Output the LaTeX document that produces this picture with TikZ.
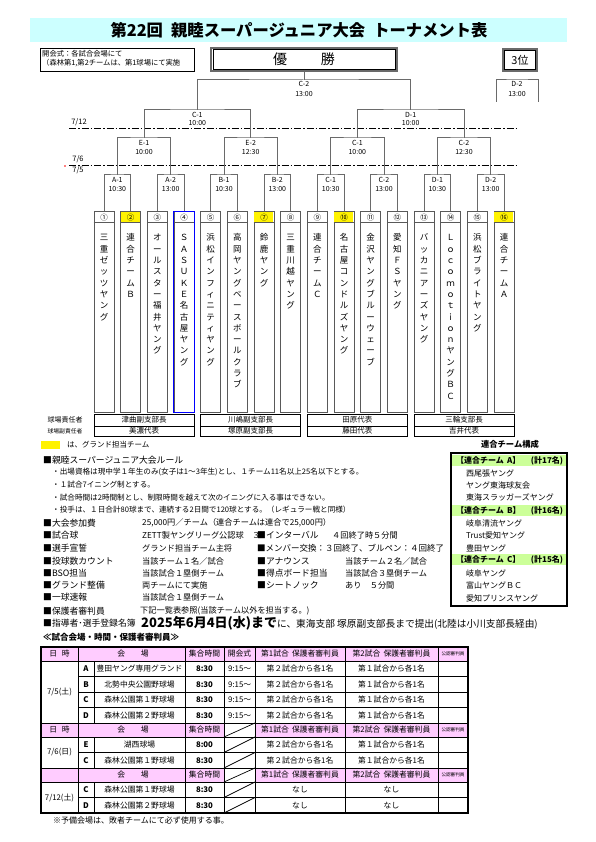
\documentclass[tikz,border=0pt]{standalone}
\usepackage{fontspec}
\setmainfont{Noto Sans CJK JP}
\definecolor{titlecyan}{HTML}{CCFFFF}
\definecolor{pinkhd}{HTML}{FFCCFF}
\definecolor{greenhd}{HTML}{CCFF99}
\definecolor{lnGray}{HTML}{6A6A6A}
\newcommand\fsz[1]{\fontsize{#1}{#1}\selectfont}
\def\stkend{\stkend}
\def\stk#1{\stkA#1\stkend}
\def\stkA#1{\ifx#1\stkend\else\hbox to 0pt{\hss#1\hss\vrule height 7.5pt depth 1.5pt width 0pt}\expandafter\stkA\fi}
\begin{document}
\begin{tikzpicture}[x=1pt,y=-1pt,
  lbl/.style={inner sep=0pt, font=\fsz{7}},
  brk/.style={draw=lnGray, line width=1pt},
  dd/.style={line width=1pt, dash pattern=on 7pt off 2pt on 1.5pt off 2pt},
  tbox/.style={draw=black!65, line width=1pt, minimum width=20pt, minimum height=200pt, inner sep=0pt},
  rl/.style={inner sep=0pt, anchor=west, font=\fsz{8.8}},
  rv/.style={inner sep=0pt, anchor=west, font=\fsz{8.2}},
  bl/.style={inner sep=0pt, anchor=west, font=\fsz{7.6}},
  cell/.style={inner sep=0pt, font=\fsz{7.8}},
  cellb/.style={inner sep=0pt, font=\fsz{7.8}\bfseries},
  rbox/.style={draw, line width=0.8pt, minimum width=100pt, inner sep=0pt, font=\fsz{7.5}},
  itm/.style={inner sep=0pt, anchor=west, font=\fsz{8}},
  tl/.style={line width=0.9pt}
]
\useasboundingbox (0,0) rectangle (595,842);
\fill[white] (0,0) rectangle (595,842);

% ---------- title ----------
\fill[titlecyan] (30,18) rectangle (567,42);
\node[font=\fsz{16.3}\bfseries, inner sep=0pt] (title) at (299,30) {第22回\hspace{0.5em}親睦スーパージュニア大会\hspace{0.5em}トーナメント表};

% ---------- opening box ----------
\node[draw, line width=1pt, minimum width=154pt, minimum height=23pt, inner sep=0pt, anchor=north west] (open) at (40,48) {};
\begin{scope}
\clip (41,49) rectangle (193,70);
\node[anchor=west, font=\fsz{7.3}, inner sep=0pt] (open1) at (42,53.5) {開会式：各試合会場にて};
\node[anchor=west, font=\fsz{7.3}, inner sep=0pt] (open2) at (42,63.5) {（森林第1,第2チームは、第1球場にて実施};
\end{scope}

% ---------- champion / third ----------
\draw[lnGray, line width=1.6pt] (211,48) rectangle (397,71);
\node[draw=black, line width=0.7pt, minimum width=182pt, minimum height=19.5pt, inner sep=0pt, font=\fsz{14}] (win) at (304,59.5) {優\hspace{2.4em}勝};
\draw[lnGray, line width=1.4pt] (503,49) rectangle (537,71);
\node[draw=black, line width=0.6pt, minimum width=31pt, minimum height=19pt, inner sep=0pt, font=\fsz{11}] (third) at (520,60) {3位};

% ---------- date separators ----------
\coordinate (da1) at (69,129); \coordinate (db1) at (517,129);
\coordinate (da2) at (69,166); \coordinate (db2) at (517,166);
\draw[dd] (da1) -- (db1);
\draw[dd] (da2) -- (db2);
\node[lbl, font=\fsz{7.5}] (d712) at (79,122) {7/12};
\node[lbl, font=\fsz{7.5}] (d76) at (78,159.5) {7/6};
\node[lbl, font=\fsz{7.5}] (d75) at (78,170) {7/5};
\fill[red] (65,166) circle (0.8pt);

% ---------- teams ----------
\foreach \i/\n/\nm/\yl in {
1/①/三重ゼッツヤング/0,
2/②/連合チームＢ/1,
3/③/オールスター福井ヤング/0,
4/④/ＳＡＳＵＫＥ名古屋ヤング/0,
5/⑤/浜松インフィニティヤング/0,
6/⑥/高岡ヤングベースボールクラブ/0,
7/⑦/鈴鹿ヤング/1,
8/⑧/三重川越ヤング/0,
9/⑨/連合チームＣ/0,
10/⑩/名古屋コンドルズヤング/1,
11/⑪/金沢ヤングブルーウェーブ/0,
12/⑫/愛知ＦＳヤング/0,
13/⑬/バッカニアーズヤング/0,
14/⑭/ＬｏｃｏｍｏｔｉｏｎヤングＢＣ/0,
15/⑮/浜松ブライトヤング/0,
16/⑯/連合チームＡ/1}{
  \node[tbox] (t\i) at ({104+(\i-1)*26.6667},312) {};
  \ifnum\yl=1 \fill[yellow] ([xshift=0.5pt,yshift=-0.5pt]t\i.north west) rectangle ++(19,10.5); \fi
  \draw[black!65, line width=0.8pt] ([yshift=-11pt]t\i.north west) -- ([yshift=-11pt]t\i.north east);
  \node[inner sep=0pt, font=\fsz{7.5}] (n\i) at ([yshift=-5.7pt]t\i.north) {\n};
  \node[inner sep=0pt, anchor=north, font=\fsz{8.5}] (nm\i) at ([yshift=-21.7pt]t\i.north) {\vbox{\baselineskip=11.3pt\expandafter\stk\expandafter{\nm}}};
}
\draw[blue, line width=1.8pt] (t4.north west) rectangle (t4.south east);

% ---------- first round ----------
\foreach \k/\a/\b/\lab/\tm in {1/1/2/A-1/10:30, 2/3/4/A-2/13:00, 3/5/6/B-1/10:30, 4/7/8/B-2/13:00, 5/9/10/C-1/10:30, 6/11/12/C-2/13:00, 7/13/14/D-1/10:30, 8/15/16/D-2/13:00}{
  \coordinate (m\k) at ({104+(2*\k-1.5)*26.6667},175);
  \draw[brk] (t\a.north) |- (m\k) -| (t\b.north);
  \node[lbl] (ml\k) at ([yshift=-5pt]m\k) {\lab};
  \node[lbl] (mt\k) at ([yshift=-14.5pt]m\k) {\tm};
}
% ---------- second round ----------
\foreach \k/\a/\b/\lab/\tm in {1/1/2/E-1/10:00, 2/3/4/E-2/12:30, 3/5/6/C-1/10:00, 4/7/8/C-2/12:30}{
  \coordinate (s\k) at ({104+(4*\k-2.5)*26.6667},138);
  \draw[brk] (m\a) |- (s\k) -| (m\b);
  \node[lbl] (sl\k) at ([yshift=-4.5pt]s\k) {\lab};
  \node[lbl] (st\k) at ([yshift=-14pt]s\k) {\tm};
}
% ---------- semi finals ----------
\foreach \k/\a/\b/\lab in {1/1/2/C-1, 2/3/4/D-1}{
  \coordinate (f\k) at ({104+(8*\k-4.5)*26.6667},110);
  \draw[brk] (s\a) |- (f\k) -| (s\b);
  \node[lbl] (fl\k) at ([yshift=-4.5pt]f\k) {\lab};
  \node[lbl] (ft\k) at ([yshift=-13.5pt]f\k) {10:00};
}
% ---------- final ----------
\coordinate (fin) at (304,80);
\draw[brk] (f1) |- (fin) -| (f2);
\draw[brk] (win.south) -- (fin);
\node[lbl] (finl) at (304,84) {C-2};
\node[lbl] (fint) at (304,94.5) {13:00};
% ---------- third place ----------
\coordinate (d2) at (517,80);
\coordinate (d2l) at (496,102);
\coordinate (d2r) at (538,102);
\draw[brk] (d2l) |- (d2) -| (d2r);
\node[lbl] (d2lab) at (517,84) {D-2};
\node[lbl] (d2t) at (517,94.5) {13:00};

% ---------- field managers ----------
\foreach \g/\ra/\rb in {0/津曲副支部長/美濃代表, 1/川嶋副支部長/塚原副支部長, 2/田原代表/藤田代表, 3/三輪支部長/吉井代表}{
  \node[rbox, minimum height=12pt] (ra\g) at ({144+106.6667*\g},420) {\ra};
  \node[rbox, minimum height=10pt] (rb\g) at ({144+106.6667*\g},431) {\rb};
}
\node[inner sep=0pt, font=\fsz{7}] (rl1) at (65,420) {球場責任者};
\node[inner sep=0pt, font=\fsz{5.8}] (rl2) at (65,431) {球場副責任者};

% ---------- legend ----------
\fill[yellow] (41,441) rectangle (60,449);
\node[inner sep=0pt, anchor=west, font=\fsz{7.5}] (legend) at (67,445) {は、グランド担当チーム};
\node[inner sep=0pt, font=\fsz{8.3}\bfseries] (ucomp) at (510,444) {連合チーム構成};

% ---------- combined teams box ----------
\fill[greenhd] (452,455) rectangle (566,466);
\fill[greenhd] (452,505) rectangle (566,516);
\fill[greenhd] (452,554) rectangle (566,565);
\draw[line width=1.8pt] (451,453) rectangle (567,606);
\node[itm, font=\fsz{8}\bfseries] (ha) at (456,460.5) {【連合チーム\hspace{0.4em}A】};
\node[inner sep=0pt, font=\fsz{8}\bfseries] (hac) at (547,460.5) {(計17名)};
\node[itm] (a1) at (466,473) {西尾張ヤング};
\node[itm] (a2) at (466,485) {ヤング東海球友会};
\node[itm] (a3) at (466,497.5) {東海スラッガーズヤング};
\node[itm, font=\fsz{8}\bfseries] (hb) at (456,510.5) {【連合チーム\hspace{0.4em}B】};
\node[inner sep=0pt, font=\fsz{8}\bfseries] (hbc) at (547,510.5) {(計16名)};
\node[itm] (b1) at (466,523) {岐阜清流ヤング};
\node[itm] (b2) at (466,535.5) {Trust愛知ヤング};
\node[itm] (b3) at (466,548) {豊田ヤング};
\node[itm, font=\fsz{8}\bfseries] (hc) at (456,559.5) {【連合チーム\hspace{0.4em}C】};
\node[inner sep=0pt, font=\fsz{8}\bfseries] (hcc) at (547,559.5) {(計15名)};
\node[itm] (c1) at (466,573) {岐阜ヤング};
\node[itm] (c2) at (466,585.5) {富山ヤングＢＣ};
\node[itm] (c3) at (466,598) {愛知プリンスヤング};

% ---------- rules ----------
\node[rl] (r0) at (43,460) {■親睦スーパージュニア大会ルール};
\node[bl] (r1) at (52,472) {・出場資格は現中学１年生のみ(女子は1～3年生)とし、１チーム11名以上25名以下とする。};
\node[bl] (r2) at (52,485) {・１試合7イニング制とする。};
\node[bl] (r3) at (52,497.5) {・試合時間は2時間制とし、制限時間を越えて次のイニングに入る事はできない。};
\node[bl] (r4) at (52,509.5) {・投手は、１日合計80球まで、連続する2日間で120球とする。（レギュラー戦と同様）};
\node[rl] (r5) at (43,523) {■大会参加費};
\node[rv] (v5) at (142,523) {25,000円／チーム（連合チームは連合で25,000円）};
\node[rl] (r6) at (43,535) {■試合球};
\node[rv] (v6) at (142,535) {ZETT製ヤングリーグ公認球　３};
\node[rl] (q6) at (257,535) {■インターバル};
\node[rv] (w6) at (332,535) {４回終了時５分間};
\node[rl] (r7) at (43,548) {■選手宣誓};
\node[rv] (v7) at (142,548) {グランド担当チーム主将};
\node[rl, font=\fsz{8.5}] (q7) at (257,548) {■メンバー交換：３回終了、ブルペン：４回終了};
\node[rl] (r8) at (43,561) {■投球数カウント};
\node[rv] (v8) at (142,561) {当該チーム１名／試合};
\node[rl] (q8) at (257,561) {■アナウンス};
\node[rv] (w8) at (345,561) {当該チーム２名／試合};
\node[rl] (r9) at (43,573) {■BSO担当};
\node[rv] (v9) at (142,573) {当該試合１塁側チーム};
\node[rl] (q9) at (257,573) {■得点ボード担当};
\node[rv] (w9) at (345,573) {当該試合３塁側チーム};
\node[rl] (r10) at (43,585) {■グランド整備};
\node[rv] (v10) at (142,585) {両チームにて実施};
\node[rl] (q10) at (257,585) {■シートノック};
\node[rv] (w10) at (345,585) {あり　５分間};
\node[rl] (r11) at (43,597) {■一球速報};
\node[rv] (v11) at (142,597) {当該試合１塁側チーム};
\node[rl] (r12) at (43,611) {■保護者審判員};
\node[rv] (v12) at (140,611) {下記一覧表参照(当該チーム以外を担当する。)};
\node[rl] (r13) at (43,623) {■指導者･選手登録名簿};
\node[inner sep=0pt, anchor=base west] (v13) at (141,627.5) {{\fsz{13}\bfseries 2025年6月4日(水)まで}{\fsz{9.7}に、東海支部 塚原副支部長まで提出(北陸は小川支部長経由)}};
\node[inner sep=0pt, anchor=west, font=\fsz{8.5}\bfseries] (tabt) at (43,637) {≪試合会場・時間・保護者審判員≫};

% ---------- table ----------
\foreach \ya/\yb in {647/661, 723/737, 768/782}{\fill[pinkhd] (41,\ya) rectangle (468,\yb);}
\fill[white] (224,723) rectangle (255,737);
\fill[white] (224,768) rectangle (255,782);
% horizontal lines
\foreach \yy in {661,723,737,768,782}{\draw[tl] (41,\yy) -- (468,\yy);}
\foreach \yy in {676.5,692,707.5,752.5,797.5}{\draw[tl] (78,\yy) -- (468,\yy);}
% vertical lines
\foreach \xx in {78,185,224,255,345,438}{\draw[tl] (\xx,647) -- (\xx,813);}
\foreach \ya/\yb in {661/723, 737/768, 782/813}{\draw[tl] (94,\ya) -- (94,\yb);}
% diagonals
\foreach \ya/\yb in {723/737, 737/752.5, 752.5/768, 768/782, 782/797.5, 797.5/813}{\draw[line width=0.7pt] (224,\yb) -- (255,\ya);}
\draw[line width=1.3pt] (41,647) rectangle (468,813);
% header texts
\foreach \h/\yy in {1/654, 2/730}{\node[cell] (hd\h) at (59.5,\yy) {日\hspace{0.6em}時};}
\foreach \h/\yy in {1/654, 2/730, 3/775}{
  \node[cell] (hv\h) at (133,\yy) {会\hspace{2em}場};
  \node[cell] (ht\h) at (204.5,\yy) {集合時間};
  \node[cell] (h1\h) at (300,\yy) {第1試合\hspace{0.4em}保護者審判員};
  \node[cell] (h2\h) at (391.5,\yy) {第2試合\hspace{0.4em}保護者審判員};
  \node[inner sep=0pt, font=\fsz{4.6}] (ho\h) at (453,\yy) {公認審判員};
}
\node[cell] (hopen) at (239.5,654) {開会式};
% dates
\node[cell] (dt1) at (59.5,692) {7/5(土)};
\node[cell] (dt2) at (59.5,752.5) {7/6(日)};
\node[cell] (dt3) at (59.5,797.5) {7/12(土)};
% data rows
\foreach \r/\yy/\L/\V/\T/\P/\Q in {
1/668.75/A/豊田ヤング専用グランド/8:30/第２試合から各1名/第１試合から各1名,
2/684.25/B/北勢中央公園野球場/8:30/第２試合から各1名/第１試合から各1名,
3/699.75/C/森林公園第１野球場/8:30/第２試合から各1名/第１試合から各1名,
4/715.25/D/森林公園第２野球場/8:30/第２試合から各1名/第１試合から各1名,
5/744.75/E/湖西球場/8:00/第２試合から各1名/第１試合から各1名,
6/760.25/C/森林公園第１野球場/8:30/第２試合から各1名/第１試合から各1名,
7/789.75/C/森林公園第１野球場/8:30/なし/なし,
8/805.25/D/森林公園第２野球場/8:30/なし/なし}{
  \node[cellb] (rl\r) at (86,\yy) {\L};
  \node[cell] (rv\r) at (139.5,\yy) {\V};
  \node[cellb] (rt\r) at (204.5,\yy) {\T};
  \node[cell] (rp\r) at (300,\yy) {\P};
  \node[cell] (rq\r) at (391.5,\yy) {\Q};
}
\foreach \r/\yy in {1/668.75, 2/684.25, 3/699.75, 4/715.25}{
  \node[cell, anchor=west] (ro\r) at (228,\yy) {9:15～};
}
\node[inner sep=0pt, anchor=west, font=\fsz{8}] (note) at (53,820.5) {※予備会場は、敗者チームにて必ず使用する事。};
\end{tikzpicture}
\end{document}
